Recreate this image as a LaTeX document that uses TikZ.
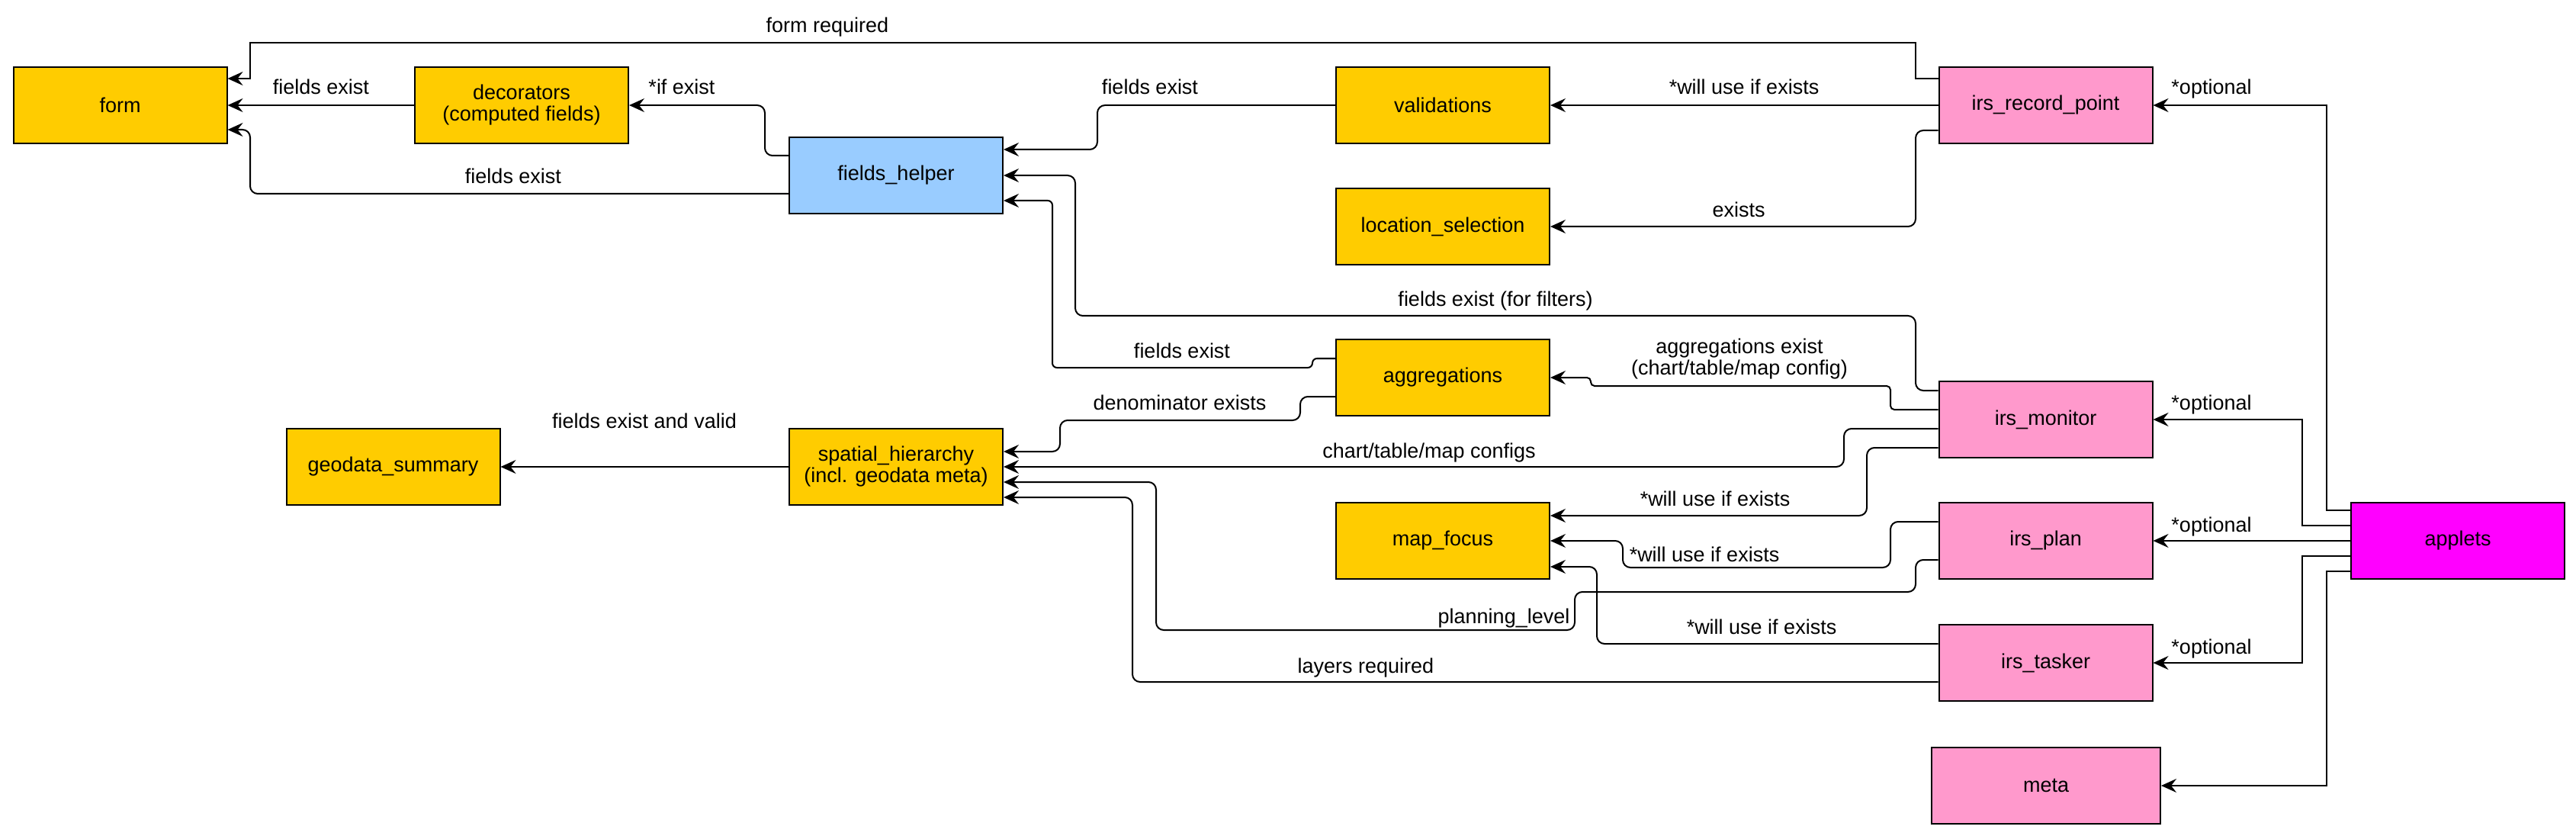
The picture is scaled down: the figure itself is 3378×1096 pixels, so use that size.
\documentclass[tikz,border=0pt]{standalone}
\usepackage{fontspec}
\setmainfont{Liberation Sans}
\usetikzlibrary{arrows.meta}
\definecolor{ylw}{HTML}{FFCC00}
\definecolor{blu}{HTML}{99CCFF}
\definecolor{pnk}{HTML}{FF99CC}
\definecolor{mag}{HTML}{FF00FF}
\tikzset{
  box/.style={draw=black, line width=1pt, minimum width=140pt, minimum height=50pt,
    inner sep=2pt, align=center, font=\fontsize{13.5pt}{14pt}\selectfont},
  edge/.style={draw, line width=1pt, -{Stealth[length=10pt,width=9pt,inset=3.5pt]}, rounded corners=5pt},
  sharpedge/.style={edge, sharp corners},
  lbl/.style={inner sep=0pt, text height=10pt, text depth=3pt, font=\fontsize{13.5pt}{14pt}\selectfont},
}
\begin{document}
\begin{tikzpicture}[x=0.5pt,y=-0.5pt]
\useasboundingbox (0,0) rectangle (3378,1096);
% nodes
\node[box, fill=ylw] (form) at (157.5,138) {form};
\node[box, fill=ylw] (decorators) at (684,138) {decorators\\(computed fields)};
\node[box, fill=blu] (fieldshelper) at (1175,230) {fields\_helper};
\node[box, fill=ylw] (validations) at (1892,138) {validations};
\node[box, fill=ylw] (locsel) at (1892,297) {location\_selection};
\node[box, fill=pnk] (recpoint) at (2682.5,138) {irs\_record\_point};
\node[box, fill=ylw] (aggregations) at (1892,495) {aggregations};
\node[box, fill=ylw] (geodata) at (515.5,612) {geodata\_summary};
\node[box, fill=ylw] (spatial) at (1175,612) {spatial\_hierarchy\\(incl. geodata meta)};
\node[box, fill=pnk] (monitor) at (2682.5,550) {irs\_monitor};
\node[box, fill=ylw] (mapfocus) at (1892,709) {map\_focus};
\node[box, fill=pnk] (plan) at (2682.5,709) {irs\_plan};
\node[box, fill=mag] (applets) at (3223,709) {applets};
\node[box, fill=pnk] (tasker) at (2682.5,869) {irs\_tasker};
\node[box, fill=pnk, minimum width=150pt] (meta) at (2683,1030) {meta};
% connectors
\draw[sharpedge] (recpoint.west |- 0,103) -- (2512,103) -- (2512,56) -- (328,56) -- (328,103) -- (form.east |- 0,103);
\draw[edge] (decorators.west) -- (form.east);
\draw[edge] (fieldshelper.west |- 0,254) -- (328,254) -- (328,170) -- (form.east |- 0,170);
\draw[edge] (fieldshelper.west |- 0,204) -- (1003,204) -- (1003,138) -- (decorators.east);
\draw[edge] (validations.west) -- (1439,138) -- (1439,196) -- (fieldshelper.east |- 0,196);
\draw[edge] (recpoint.west) -- (validations.east);
\draw[edge] (recpoint.west |- 0,171) -- (2512,171) -- (2512,297) -- (locsel.east);
\draw[edge] (monitor.west |- 0,512) -- (2512,512) -- (2512,414) -- (1410,414) -- (1410,230) -- (fieldshelper.east);
\draw[edge, rounded corners=3pt] (aggregations.west |- 0,470) -- (1721,470) -- (1721,482) -- (1380,482) -- (1380,263) -- (fieldshelper.east |- 0,263);
\draw[edge, rounded corners=2.5pt] (monitor.west |- 0,537) -- (2479,537) -- (2479,506) -- (2086,506) -- (2086,495) -- (aggregations.east);
\draw[edge] (aggregations.west |- 0,520) -- (1705,520) -- (1705,551) -- (1390,551) -- (1390,592) -- (spatial.east |- 0,592);
\draw[edge] (spatial.west) -- (geodata.east);
\draw[edge] (monitor.west |- 0,562) -- (2418,562) -- (2418,612) -- (spatial.east);
\draw[edge] (monitor.west |- 0,587) -- (2448,587) -- (2448,676) -- (mapfocus.east |- 0,676);
\draw[edge] (plan.west |- 0,684) -- (2479,684) -- (2479,744) -- (2128,744) -- (2128,709) -- (mapfocus.east);
\draw[edge] (plan.west |- 0,734) -- (2512,734) -- (2512,776) -- (2065,776) -- (2065,826) -- (1516,826) -- (1516,632) -- (spatial.east |- 0,632);
\draw[edge] (tasker.west |- 0,844) -- (2094,844) -- (2094,743) -- (mapfocus.east |- 0,743);
\draw[edge] (tasker.west |- 0,894) -- (1485,894) -- (1485,652) -- (spatial.east |- 0,652);
\draw[sharpedge] (applets.west |- 0,669) -- (3051,669) -- (3051,138) -- (recpoint.east);
\draw[sharpedge] (applets.west |- 0,689) -- (3019,689) -- (3019,550) -- (monitor.east);
\draw[sharpedge] (applets.west) -- (plan.east);
\draw[sharpedge] (applets.west |- 0,729) -- (3019,729) -- (3019,869) -- (tasker.east);
\draw[sharpedge] (applets.west |- 0,749) -- (3051,749) -- (3051,1030) -- (meta.east);
% labels
\node[lbl] (l1) at (1085,36) {form required};
\node[lbl] (l2) at (421,117) {fields exist};
\node[lbl] (l3) at (673,234) {fields exist};
\node[lbl] (l4) at (894,117) {*if exist};
\node[lbl] (l5) at (1508,117) {fields exist};
\node[lbl] (l6) at (2287,117) {*will use if exists};
\node[lbl] (l7) at (2280,278) {exists};
\node[lbl] (l8) at (1961,394) {fields exist (for filters)};
\node[lbl] (l9) at (1550,463) {fields exist};
\node[inner sep=0pt, align=center, font=\fontsize{13.5pt}{14pt}\selectfont] (l10) at (2281,471) {aggregations exist\\(chart/table/map config)};
\node[lbl] (l11) at (1547,531) {denominator exists};
\node[lbl] (l12) at (845,554) {fields exist and valid};
\node[lbl] (l13) at (1874,593) {chart/table/map configs};
\node[lbl] (l14) at (2249,656) {*will use if exists};
\node[lbl] (l15) at (2235,729) {*will use if exists};
\node[lbl] (l16) at (1972,810) {planning\_level};
\node[lbl] (l17) at (2310,824) {*will use if exists};
\node[lbl] (l18) at (1791,875) {layers required};
\node[lbl] (o1) at (2900,117) {*optional};
\node[lbl] (o2) at (2900,530) {*optional};
\node[lbl] (o3) at (2900,690) {*optional};
\node[lbl] (o4) at (2900,850) {*optional};
\end{tikzpicture}
\end{document}
